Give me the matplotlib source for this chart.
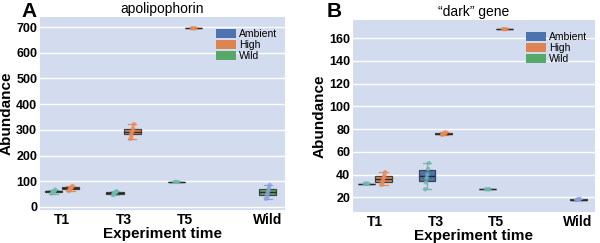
"""
Abundance of two genes over experiment time (boxplot + strip points)
"""

import matplotlib.pyplot as plt
from matplotlib.patches import Patch
import numpy as np

plt.rcParams['font.family'] = ['Liberation Sans', 'DejaVu Sans']

categories = ['T1', 'T3', 'T5', 'Wild']
cat_pos = [0, 1, 2, 3.35]
groups = ['Ambient', 'High', 'Wild']

box_colors = {'Ambient': '#4c72b0', 'High': '#dd8452', 'Wild': '#55a868'}
point_colors = {'Ambient': '#6fb8b0', 'High': '#e8895a', 'Wild': '#8aa0d8'}

# (category, group) -> samples
apo_data = {
    ('T1', 'Ambient'): [52, 56, 59, 61, 63, 67],
    ('T1', 'High'): [62, 67, 71, 74, 77, 81],
    ('T3', 'Ambient'): [46, 51, 54, 56, 58, 61],
    ('T3', 'High'): [265, 280, 290, 295, 305, 322],
    ('T5', 'Ambient'): [97, 97, 97],
    ('T5', 'High'): [695, 695, 695],
    ('Wild', 'Wild'): [32, 45, 53, 62, 72, 85],
}

dark_data = {
    ('T1', 'Ambient'): [32, 32, 32],
    ('T1', 'High'): [31, 33, 35, 37, 39, 42],
    ('T3', 'Ambient'): [27, 33, 37, 40, 45, 50],
    ('T3', 'High'): [75, 75.5, 76, 76, 76.5, 77],
    ('T5', 'Ambient'): [27, 27, 27],
    ('T5', 'High'): [168, 168, 168],
    ('Wild', 'Wild'): [17.5, 18, 18, 18.5],
}

offsets = {'Ambient': -0.14, 'High': 0.14, 'Wild': 0.0}


def draw_panel(ax, data, title, ylim, yticks):
    ax.set_facecolor('#d3dcee')
    for s in ax.spines.values():
        s.set_visible(False)
    ax.grid(axis='y', color='white', linewidth=1.0)
    ax.set_axisbelow(True)

    for (cat, grp), vals in data.items():
        x = cat_pos[categories.index(cat)] + offsets[grp]
        ax.boxplot([vals], positions=[x], widths=0.28, patch_artist=True,
                   showfliers=False,
                   boxprops=dict(facecolor=box_colors[grp], edgecolor='#444444', linewidth=0.9),
                   medianprops=dict(color='#2a2a2a', linewidth=1.0),
                   whiskerprops=dict(color=point_colors[grp], linewidth=0.9),
                   capprops=dict(color=point_colors[grp], linewidth=0.9))
        jit = np.linspace(-0.03, 0.03, len(vals))
        ax.scatter(x + jit, vals, s=10, color=point_colors[grp], alpha=0.8,
                   edgecolors='none', zorder=4)

    ax.set_xticks(cat_pos)
    ax.set_xticklabels(categories, fontweight='bold', fontsize=10)
    ax.set_xlim(-0.36, 3.63)
    ax.set_ylim(*ylim)
    ax.set_yticks(yticks)
    ax.set_yticklabels([str(t) for t in yticks], fontweight='bold', fontsize=9)
    ax.tick_params(length=0, pad=2)
    ax.set_xlabel('Experiment time', fontweight='bold', fontsize=11, labelpad=0)
    ax.set_ylabel('Abundance', fontweight='bold', fontsize=11, labelpad=2)
    ax.set_title(title, fontsize=10, pad=3)

    handles = [Patch(facecolor=box_colors[g], label=g) for g in groups]
    ax.legend(handles=handles, loc='upper right', fontsize=7.5, frameon=False,
              handlelength=1.9, handleheight=0.85, labelspacing=0.1,
              handletextpad=0.3, borderaxespad=0.2, bbox_to_anchor=(0.995, 0.97))


fig = plt.figure(figsize=(6, 2.43), dpi=100)
ax1 = fig.add_axes([40 / 600, 1 - 210 / 243, 245 / 600, 193 / 243])
ax2 = fig.add_axes([353 / 600, 1 - 212 / 243, 242 / 600, 192 / 243])

draw_panel(ax1, apo_data, 'apolipophorin', (-12, 739), list(range(0, 701, 100)))
draw_panel(ax2, dark_data, '\u201cdark\u201d gene', (7, 176), list(range(20, 161, 20)))

fig.text(0.035, 0.99, 'A', fontsize=15, fontweight='bold', va='top')
fig.text(0.545, 0.99, 'B', fontsize=15, fontweight='bold', va='top')

fig.savefig('out.png', dpi=100)
